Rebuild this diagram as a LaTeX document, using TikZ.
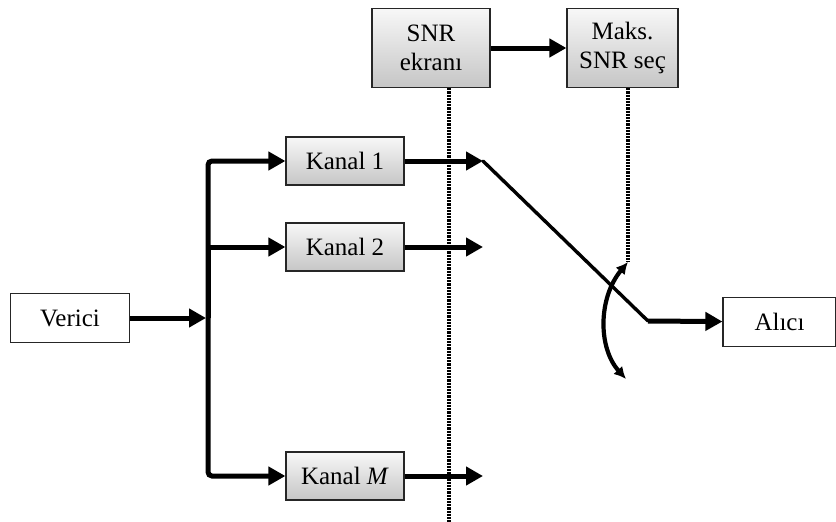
\documentclass[tikz,border=0pt]{standalone}
\usepackage{fontspec}
\setmainfont{Liberation Serif}
\usetikzlibrary{arrows.meta,positioning,calc}

\begin{document}
\begin{tikzpicture}[x=1pt,y=-1pt,
  chan/.style={draw=black!85,line width=1.2pt,top color=gray!6,bottom color=gray!45,
               minimum width=118pt,minimum height=48pt,inner sep=0pt,
               font=\fontsize{25}{29}\selectfont},
  blk/.style={chan,minimum width=118pt,minimum height=79pt,align=center},
  term/.style={draw=black!85,line width=1.2pt,fill=white,minimum width=119pt,
               minimum height=49pt,inner sep=0pt,font=\fontsize{25}{29}\selectfont},
  fat/.style={line width=5pt,-{Triangle[length=17pt,width=18pt]}},
  sw/.style={line width=3.4pt,line cap=round},
  dots/.style={line width=4pt,black,dash pattern=on 2.2pt off 1pt},
  turn/.style={line width=4.2pt,black,{Latex[length=12pt,width=12pt]}-{Latex[length=12pt,width=12pt]}}]

\useasboundingbox (0,0) rectangle (836,522);

% ------------- blocks -------------
\node[term] (verici) at (70,318) {Verici};
\node[chan] (k1) at (345,161) {Kanal 1};
\node[chan] (k2) at (345,247) {Kanal 2};
\node[chan] (kM) at (345,476) {Kanal \textit{M}};
\node[blk] (snr) at (431,48) {SNR\\ekranı};
\node[blk,minimum width=111pt] (maks) at (622.5,48) {Maks.\\SNR seç};
\node[term,minimum width=113pt] (alici) at (779.5,322) {Alıcı};

\coordinate (bus) at (208,318);
\coordinate (o1) at (483,161);
\coordinate (o2) at (483,247);
\coordinate (oM) at (483,476);
\coordinate (swend) at (648,321);
\coordinate (ctop) at (628,262);
\coordinate (cbot) at (626,379);
\coordinate (cut) at (449,522);

% ------------- splitting -------------
\draw[fat,shorten >=2pt] (verici) -- (bus);
\draw[fat,rounded corners=4pt] (bus) |- (k1);
\draw[fat] (bus) |- (k2);
\draw[fat,rounded corners=4pt] (bus) |- (kM);

% ------------- channel outputs -------------
\draw[fat] (k1) -- (o1);
\draw[fat] (k2) -- (o2);
\draw[fat] (kM) -- (oM);

% ------------- selection -------------
\draw[fat] (snr) -- (maks);
\draw[dots] (snr.south -| cut) -- (cut);
\draw[dots] (maks.south -| ctop) -- (ctop);
\draw[sw] (o1) -- (swend);
\draw[fat] (swend) -- (alici);
\draw[turn] (ctop) .. controls (598,298) and (598,348) .. (cbot);

\end{tikzpicture}
\end{document}
